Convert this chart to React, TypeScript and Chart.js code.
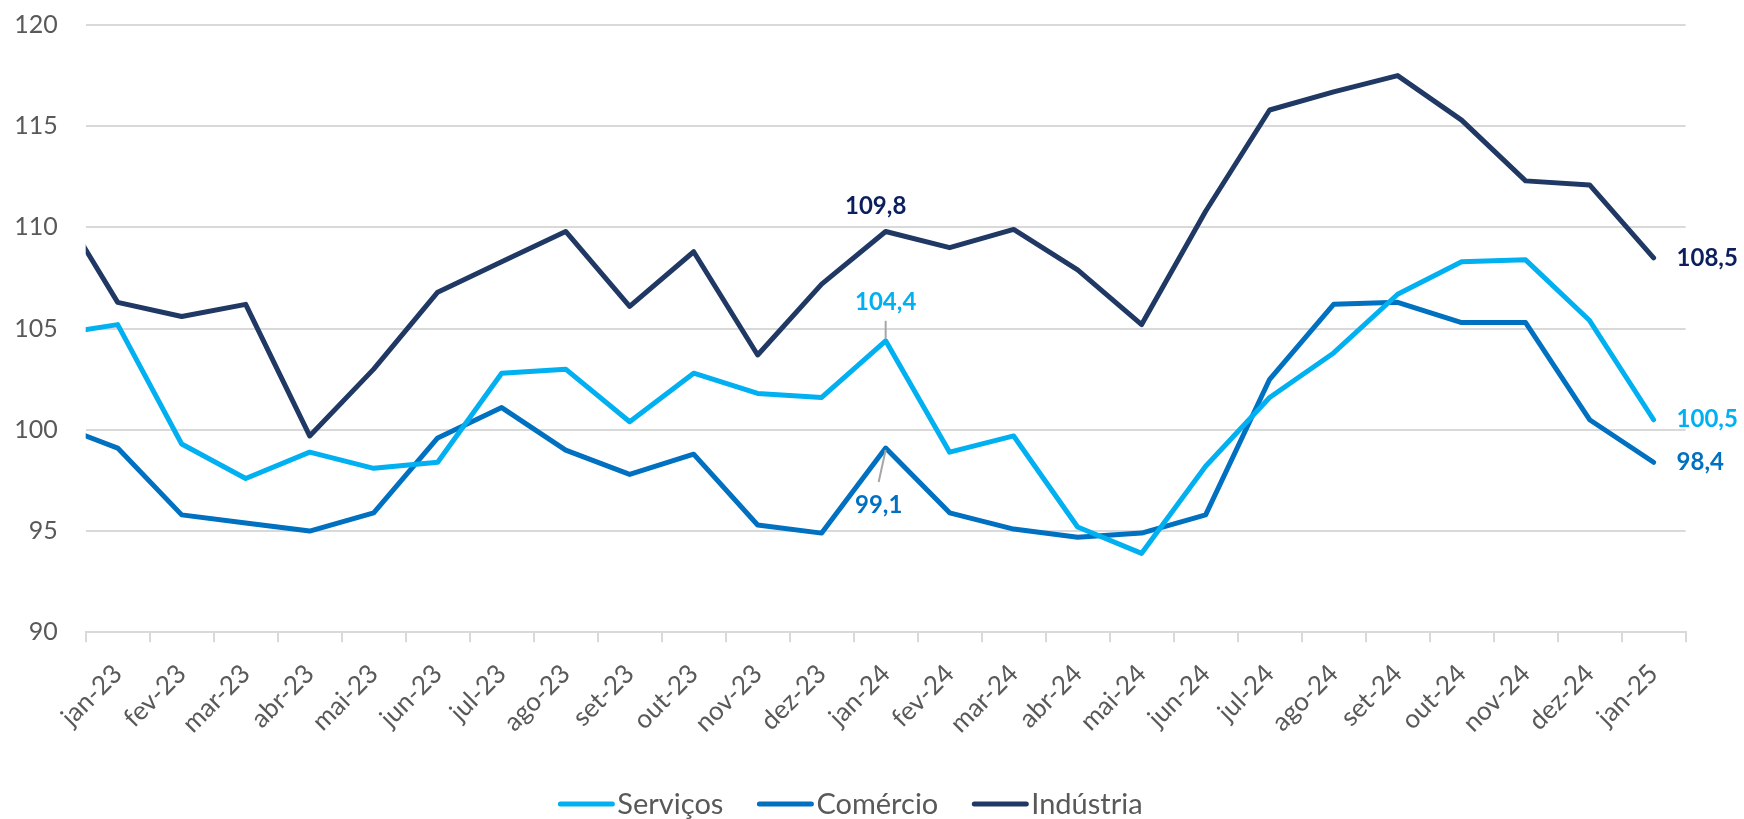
import React, { useEffect, useRef } from 'react';
import { Chart, registerables } from 'chart.js';

Chart.register(...registerables);

// Months of the data series (the first one, dez-22, lies just left of the visible axis and is clipped)
const periods = [
  'dez-22',
  'jan-23', 'fev-23', 'mar-23', 'abr-23', 'mai-23', 'jun-23', 'jul-23', 'ago-23', 'set-23', 'out-23', 'nov-23', 'dez-23',
  'jan-24', 'fev-24', 'mar-24', 'abr-24', 'mai-24', 'jun-24', 'jul-24', 'ago-24', 'set-24', 'out-24', 'nov-24', 'dez-24',
  'jan-25',
];

// Tick labels of the visible x axis
const xTickLabels = [
  'jan-23', 'fev-23', 'mar-23', 'abr-23', 'mai-23', 'jun-23', 'jul-23', 'ago-23', 'set-23', 'out-23', 'nov-23', 'dez-23',
  'jan-24', 'fev-24', 'mar-24', 'abr-24', 'mai-24', 'jun-24', 'jul-24', 'ago-24', 'set-24', 'out-24', 'nov-24', 'dez-24',
  'jan-25',
];

const servicos = [
  104.7,
  105.2, 99.3, 97.6, 98.9, 98.1, 98.4, 102.8, 103.0, 100.4, 102.8, 101.8, 101.6,
  104.4, 98.9, 99.7, 95.2, 93.9, 98.2, 101.6, 103.8, 106.7, 108.3, 108.4, 105.4,
  100.5,
];

const comercio = [
  100.3,
  99.1, 95.8, 95.4, 95.0, 95.9, 99.6, 101.1, 99.0, 97.8, 98.8, 95.3, 94.9,
  99.1, 95.9, 95.1, 94.7, 94.9, 95.8, 102.5, 106.2, 106.3, 105.3, 105.3, 100.5,
  98.4,
];

const industria = [
  111.5,
  106.3, 105.6, 106.2, 99.7, 103.0, 106.8, 108.3, 109.8, 106.1, 108.8, 103.7, 107.2,
  109.8, 109.0, 109.9, 107.9, 105.2, 110.8, 115.8, 116.7, 117.5, 115.3, 112.3, 112.1,
  108.5,
];

const seriesNames = ['Serviços', 'Comércio', 'Indústria'];

const yMin = 90;
const yMax = 120;
const yStep = 5;

const COLORS = ['#00B0F0', '#0070C0', '#1F3864'];
const LABEL_COLORS = ['#00B0F0', '#0070C0', '#0B1F5E'];
const GRID = '#D9D9D9';
const TEXT = '#595959';
const FONT = "Lato, 'Open Sans', sans-serif";

const fmt = (v: number) => v.toFixed(1).replace('.', ',');

const toPoints = (arr: number[]) => arr.map((y, i) => ({ x: i - 1, y }));

const dataLabelPlugin = {
  id: 'dataLabels',
  afterDatasetsDraw(chart: any) {
    const ctx = chart.ctx as CanvasRenderingContext2D;
    const jan24 = periods.indexOf('jan-24');
    const last = periods.length - 1;
    const pt = (ds: number, i: number) => chart.getDatasetMeta(ds).data[i];
    const vals = [servicos, comercio, industria];

    ctx.save();
    ctx.font = `bold 24px ${FONT}`;
    ctx.textBaseline = 'middle';

    // Leader lines
    ctx.strokeStyle = '#A6A6A6';
    ctx.lineWidth = 2;
    const ps = pt(0, jan24);
    ctx.beginPath();
    ctx.moveTo(ps.x, ps.y - 20);
    ctx.lineTo(ps.x, ps.y - 2);
    ctx.stroke();
    const pc = pt(1, jan24);
    ctx.beginPath();
    ctx.moveTo(pc.x, pc.y + 2);
    ctx.lineTo(pc.x - 7, pc.y + 34);
    ctx.stroke();

    // jan-24 labels
    ctx.textAlign = 'center';
    const pi = pt(2, jan24);
    ctx.fillStyle = LABEL_COLORS[2];
    ctx.fillText(fmt(industria[jan24]), pi.x - 10, pi.y - 25);
    ctx.fillStyle = LABEL_COLORS[0];
    ctx.fillText(fmt(servicos[jan24]), ps.x, ps.y - 39);
    ctx.fillStyle = LABEL_COLORS[1];
    ctx.fillText(fmt(comercio[jan24]), pc.x - 7, pc.y + 57);

    // end labels
    ctx.textAlign = 'left';
    for (let d = 0; d < 3; d++) {
      const p = pt(d, last);
      ctx.fillStyle = LABEL_COLORS[d];
      ctx.fillText(fmt(vals[d][last]), p.x + 23, p.y);
    }
    ctx.restore();
  },
};

const legendPlugin = {
  id: 'lineLegend',
  afterDraw(chart: any) {
    const ctx = chart.ctx as CanvasRenderingContext2D;
    const datasets = chart.data.datasets;
    ctx.save();
    ctx.font = `29px ${FONT}`;
    const lineLen = 56;
    const gap = 3;
    const spacing = 34;
    const widths = datasets.map((d: any) => lineLen + gap + ctx.measureText(d.label).width);
    const total = widths.reduce((a: number, b: number) => a + b, 0) + spacing * (datasets.length - 1);
    let x = 850.5 - total / 2;
    const lineY = 804;
    const baseY = 814;
    datasets.forEach((d: any, i: number) => {
      ctx.strokeStyle = d.borderColor;
      ctx.lineWidth = 5;
      ctx.lineCap = 'round';
      ctx.beginPath();
      ctx.moveTo(x + 2, lineY);
      ctx.lineTo(x + lineLen - 2, lineY);
      ctx.stroke();
      ctx.fillStyle = TEXT;
      ctx.textAlign = 'left';
      ctx.textBaseline = 'alphabetic';
      ctx.fillText(d.label, x + lineLen + gap, baseY);
      x += widths[i] + spacing;
    });
    ctx.restore();
  },
};

export default function App() {
  const ref = useRef<HTMLCanvasElement>(null);

  useEffect(() => {
    document.body.style.margin = '0';
    Chart.defaults.font.family = FONT;
    const series = [servicos, comercio, industria];
    const chart = new Chart(ref.current as HTMLCanvasElement, {
      type: 'line',
      data: {
        datasets: series.map((arr, i) => ({
          label: seriesNames[i],
          data: toPoints(arr),
          borderColor: COLORS[i],
          backgroundColor: COLORS[i],
          borderWidth: 5,
          pointRadius: 0,
          pointHoverRadius: 0,
          tension: 0,
          borderCapStyle: 'round',
          borderJoinStyle: 'round',
          fill: false,
        })),
      },
      options: {
        responsive: false,
        devicePixelRatio: 1,
        animation: false,
        layout: { padding: { top: 25, right: 58.4, bottom: 0, left: 0 } },
        plugins: {
          legend: { display: false },
          tooltip: { enabled: false },
        },
        scales: {
          x: {
            type: 'linear',
            min: -0.5,
            max: xTickLabels.length - 0.5,
            afterBuildTicks: (s: any) => {
              s.ticks = xTickLabels.map((_, i) => ({ value: i }));
            },
            afterFit: (s: any) => {
              s.height = 186.7;
            },
            ticks: {
              autoSkip: false,
              minRotation: 45,
              maxRotation: 45,
              padding: 16,
              color: TEXT,
              font: { size: 26, family: FONT },
              callback: (v: any) => xTickLabels[Math.round(Number(v))] ?? '',
            },
            grid: {
              offset: true,
              drawOnChartArea: false,
              drawTicks: true,
              tickLength: 10,
              color: GRID,
              lineWidth: 2,
            },
            border: { display: true, color: GRID, width: 2 },
          },
          y: {
            min: yMin,
            max: yMax,
            afterFit: (s: any) => {
              s.width = 85.7;
            },
            ticks: {
              stepSize: yStep,
              padding: 0,
              color: TEXT,
              font: { size: 25, family: FONT },
            },
            grid: {
              color: GRID,
              lineWidth: 2,
              drawTicks: true,
              tickLength: 28,
              tickColor: 'rgba(0,0,0,0)',
            },
            border: { display: false },
          },
        },
      },
      plugins: [dataLabelPlugin, legendPlugin],
    } as any);
    return () => chart.destroy();
  }, []);

  return (
    <div style={{ position: 'absolute', left: 0, top: 0, width: 1744, height: 819 }}>
      <canvas ref={ref} width={1744} height={819} style={{ display: 'block', width: 1744, height: 819 }} />
    </div>
  );
}
